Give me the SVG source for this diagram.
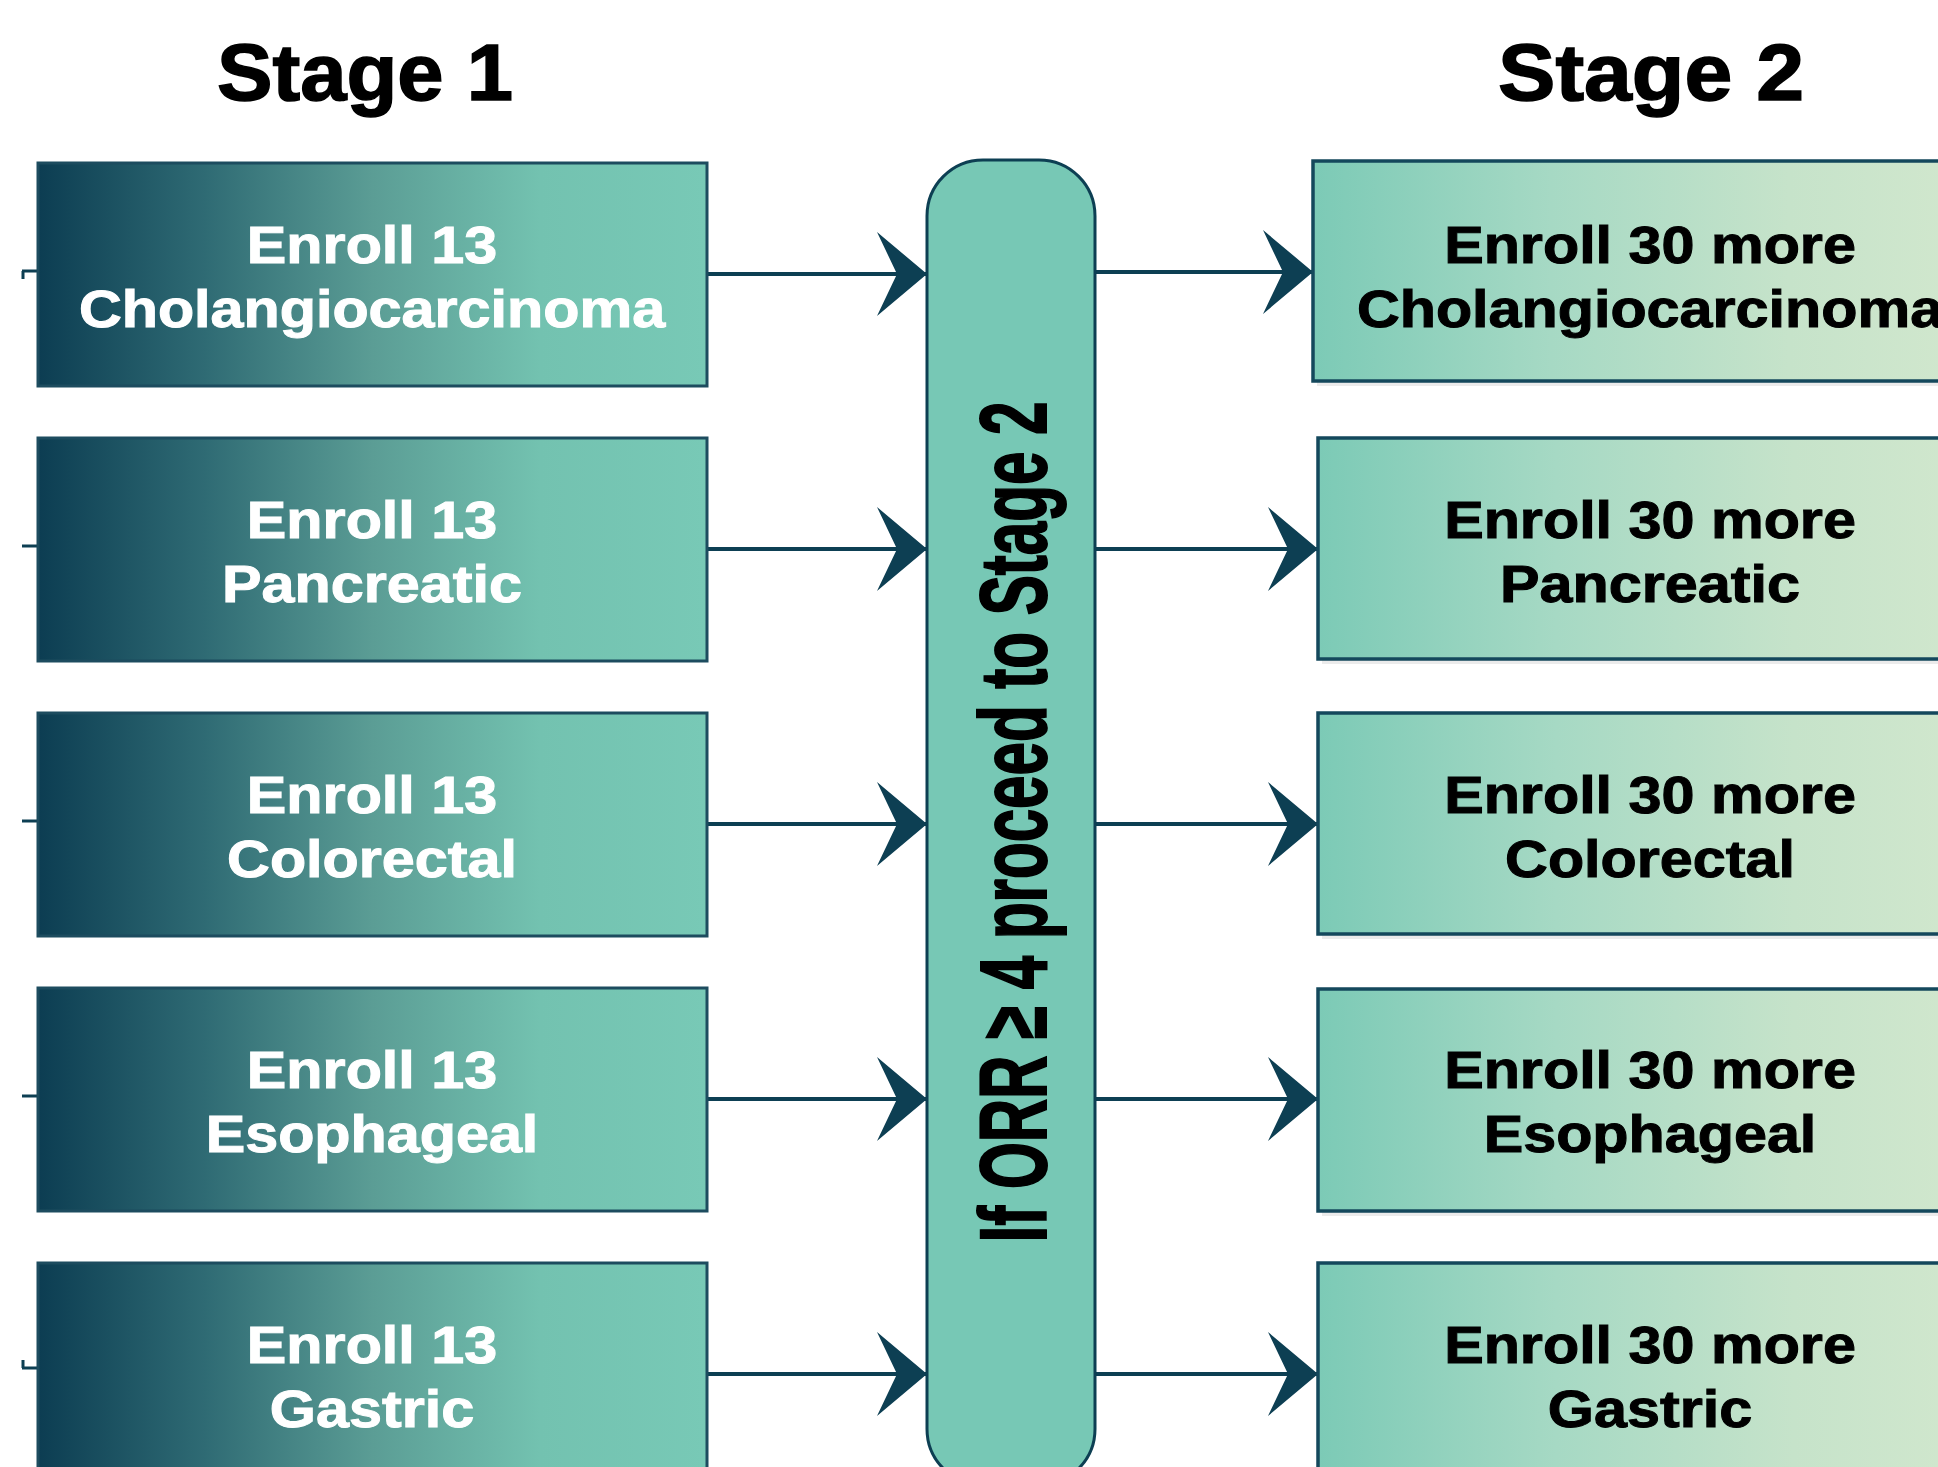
<svg xmlns="http://www.w3.org/2000/svg" width="1938" height="1467" viewBox="0 0 1938 1467">
<style>
.title{font-family:"Liberation Sans",Arial,sans-serif;font-weight:bold;font-size:80px;fill:#000;stroke:#000;stroke-width:1.5;}
.lt{font-family:"Liberation Sans",Arial,sans-serif;font-weight:bold;font-size:52px;fill:#ffffff;stroke:#ffffff;stroke-width:1;text-anchor:middle;}
.rt{font-family:"Liberation Sans",Arial,sans-serif;font-weight:bold;font-size:52px;fill:#000000;stroke:#000000;stroke-width:1;text-anchor:middle;}
.lbox{fill:url(#gl);stroke:#1d4c5f;stroke-width:3;}
.rbox{fill:url(#gr);stroke:#14485c;stroke-width:3.5;}
.shadow{fill:#000;opacity:0.08;}
.conn{stroke:#0d3f53;stroke-width:4;fill:none;marker-end:url(#arr);}
.stub{stroke:#0d3f53;stroke-width:3;fill:none;}
.pill{fill:#77c8b5;stroke:#0d3f53;stroke-width:3;}
.vt{font-family:"Liberation Sans",Arial,sans-serif;font-weight:bold;font-size:94px;fill:#000;stroke:#000;stroke-width:2;text-anchor:middle;}
</style>
<defs>
<linearGradient id="gl" x1="0" y1="0" x2="1" y2="0">
<stop offset="0" stop-color="#0c3d52"/>
<stop offset="0.25" stop-color="#2f6b74"/>
<stop offset="0.5" stop-color="#5b9d95"/>
<stop offset="0.75" stop-color="#73c2b0"/>
<stop offset="1" stop-color="#78c9b6"/>
</linearGradient>
<linearGradient id="gr" x1="0" y1="0" x2="1" y2="0">
<stop offset="0" stop-color="#7ccab6"/>
<stop offset="0.35" stop-color="#a6d9c4"/>
<stop offset="0.7" stop-color="#c6e3ca"/>
<stop offset="1" stop-color="#d3e8ce"/>
</linearGradient>
<marker id="arr" markerUnits="userSpaceOnUse" markerWidth="50" markerHeight="84" refX="50" refY="42" orient="auto" viewBox="0 0 50 84">
<path d="M0,0 L50,42 L0,84 L20,42 Z" fill="#0d3f53"/>
</marker>
</defs>
<rect width="1938" height="1467" fill="#ffffff"/>

<g id="title1"><text class="title" x="217" y="100" textLength="296" lengthAdjust="spacingAndGlyphs">Stage 1</text></g>
<g id="title2"><text class="title" x="1498" y="100" textLength="306" lengthAdjust="spacingAndGlyphs">Stage 2</text></g>

<g id="connectors">
<path class="stub" d="M22,271 H38 M23,271 V279"/>
<path class="stub" d="M22,546 H38"/>
<path class="stub" d="M22,821 H38"/>
<path class="stub" d="M22,1096 H38"/>
<path class="stub" d="M22,1368 H38 M23,1360 V1368"/>
<line class="conn" x1="707" y1="274" x2="927" y2="274"/>
<line class="conn" x1="707" y1="549" x2="927" y2="549"/>
<line class="conn" x1="707" y1="824" x2="927" y2="824"/>
<line class="conn" x1="707" y1="1099" x2="927" y2="1099"/>
<line class="conn" x1="707" y1="1374" x2="927" y2="1374"/>
<line class="conn" x1="1095" y1="272" x2="1313" y2="272"/>
<line class="conn" x1="1095" y1="549" x2="1318" y2="549"/>
<line class="conn" x1="1095" y1="824" x2="1318" y2="824"/>
<line class="conn" x1="1095" y1="1099" x2="1318" y2="1099"/>
<line class="conn" x1="1095" y1="1374" x2="1318" y2="1374"/>
</g>

<g id="s1-chol">
<rect class="lbox" x="38" y="163" width="669" height="223"/>
<text class="lt" transform="translate(372,0) scale(1.14,1)"><tspan x="0" y="263">Enroll 13</tspan><tspan x="0" y="327">Cholangiocarcinoma</tspan></text>
</g>
<g id="s1-panc">
<rect class="lbox" x="38" y="438" width="669" height="223"/>
<text class="lt" transform="translate(372,0) scale(1.14,1)"><tspan x="0" y="538">Enroll 13</tspan><tspan x="0" y="602">Pancreatic</tspan></text>
</g>
<g id="s1-colo">
<rect class="lbox" x="38" y="713" width="669" height="223"/>
<text class="lt" transform="translate(372,0) scale(1.14,1)"><tspan x="0" y="813">Enroll 13</tspan><tspan x="0" y="877">Colorectal</tspan></text>
</g>
<g id="s1-esop">
<rect class="lbox" x="38" y="988" width="669" height="223"/>
<text class="lt" transform="translate(372,0) scale(1.14,1)"><tspan x="0" y="1088">Enroll 13</tspan><tspan x="0" y="1152">Esophageal</tspan></text>
</g>
<g id="s1-gast">
<rect class="lbox" x="38" y="1263" width="669" height="223"/>
<text class="lt" transform="translate(372,0) scale(1.14,1)"><tspan x="0" y="1363">Enroll 13</tspan><tspan x="0" y="1427">Gastric</tspan></text>
</g>

<g id="decision">
<rect class="pill" x="927" y="160" width="168" height="1325" rx="56" ry="56"/>
<text class="vt" transform="translate(1046,822) rotate(-90)" x="0" y="0" textLength="841" lengthAdjust="spacingAndGlyphs">If ORR ≥ 4 proceed to Stage 2</text>
</g>

<g id="s2-chol">
<rect class="shadow" x="1317" y="166" width="680" height="220"/>
<rect class="rbox" x="1313" y="161" width="680" height="220"/>
<text class="rt" transform="translate(1650,0) scale(1.14,1)"><tspan x="0" y="263">Enroll 30 more</tspan><tspan x="0" y="327">Cholangiocarcinoma</tspan></text>
</g>
<g id="s2-panc">
<rect class="shadow" x="1322" y="443" width="680" height="221"/>
<rect class="rbox" x="1318" y="438" width="680" height="221"/>
<text class="rt" transform="translate(1650,0) scale(1.14,1)"><tspan x="0" y="538">Enroll 30 more</tspan><tspan x="0" y="602">Pancreatic</tspan></text>
</g>
<g id="s2-colo">
<rect class="shadow" x="1322" y="718" width="680" height="221"/>
<rect class="rbox" x="1318" y="713" width="680" height="221"/>
<text class="rt" transform="translate(1650,0) scale(1.14,1)"><tspan x="0" y="813">Enroll 30 more</tspan><tspan x="0" y="877">Colorectal</tspan></text>
</g>
<g id="s2-esop">
<rect class="shadow" x="1322" y="994" width="680" height="222"/>
<rect class="rbox" x="1318" y="989" width="680" height="222"/>
<text class="rt" transform="translate(1650,0) scale(1.14,1)"><tspan x="0" y="1088">Enroll 30 more</tspan><tspan x="0" y="1152">Esophageal</tspan></text>
</g>
<g id="s2-gast">
<rect class="shadow" x="1322" y="1268" width="680" height="222"/>
<rect class="rbox" x="1318" y="1263" width="680" height="222"/>
<text class="rt" transform="translate(1650,0) scale(1.14,1)"><tspan x="0" y="1363">Enroll 30 more</tspan><tspan x="0" y="1427">Gastric</tspan></text>
</g>
</svg>
